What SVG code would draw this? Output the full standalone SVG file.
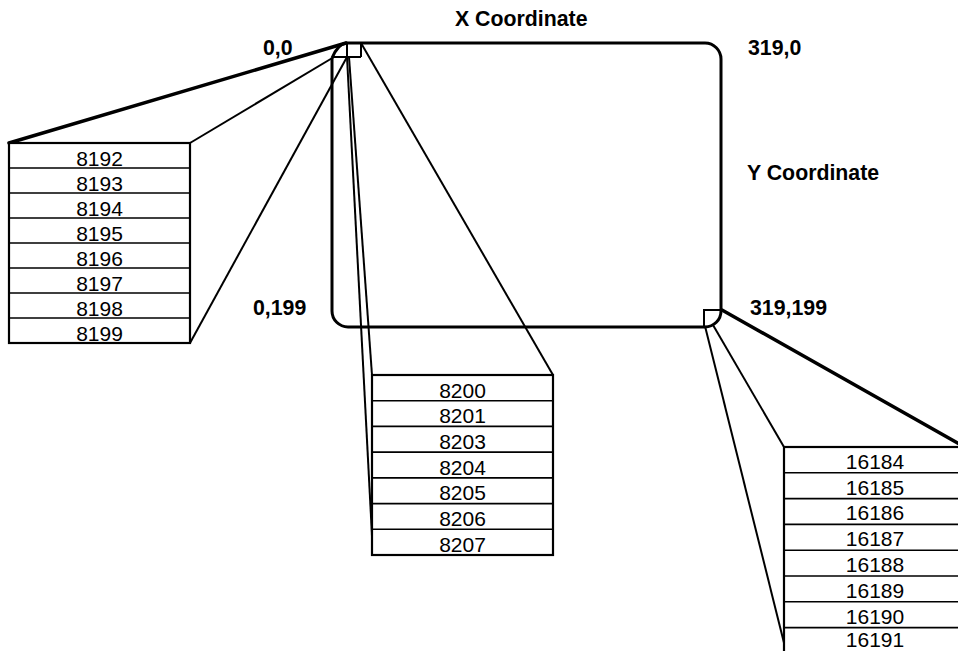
<svg xmlns="http://www.w3.org/2000/svg" width="958" height="651" viewBox="0 0 958 651">
<style>
.bg{fill:#fff}
.thick{stroke:#000;stroke-width:3.5;fill:none;stroke-linecap:round}
.thin{stroke:#000;stroke-width:2;fill:none}
.box{stroke:#000;stroke-width:2.2;fill:#fff}
.row{stroke:#000;stroke-width:1.6}
.num{font-family:"Liberation Sans",Arial,sans-serif;font-size:21px;fill:#000;text-anchor:middle}
.lbl{font-family:"Liberation Sans",Arial,sans-serif;font-size:21.3px;font-weight:bold;fill:#000}
</style>
<rect class="bg" width="958" height="651"/>
<g id="screen">
<path d="M332,58 V311 A16,16 0 0 0 348,327 H705 A16,16 0 0 0 721,311 V59 A16,16 0 0 0 705,43 H346 Q338,44 332,58" fill="none" stroke="#000" stroke-width="3"/>
<path class="thin" d="M347,43 V57 M361,43 V57 M333,57 H361"/>
<path class="thin" d="M704,327 V310 H721"/>
</g>
<g id="connectors">
<line class="thick" x1="9" y1="143" x2="346" y2="43"/>
<line class="thin" x1="190" y1="143" x2="334" y2="57"/>
<line class="thin" x1="190" y1="343" x2="347" y2="57"/>
<line class="thin" x1="347" y1="57" x2="373" y2="555"/>
<line class="thin" x1="349" y1="57" x2="372" y2="375"/>
<line class="thin" x1="361" y1="43" x2="553" y2="375"/>
<line class="thick" x1="722" y1="310" x2="968" y2="449"/>
<line class="thin" x1="713" y1="325" x2="784" y2="447"/>
<line class="thin" x1="705" y1="326" x2="787" y2="655"/>
</g>
<g id="labels">
<text class="lbl" x="455" y="26">X Coordinate</text>
<text class="lbl" x="263" y="55">0,0</text>
<text class="lbl" x="748" y="55">319,0</text>
<text class="lbl" x="747" y="180">Y Coordinate</text>
<text class="lbl" x="253" y="315">0,199</text>
<text class="lbl" x="750" y="315">319,199</text>
</g>
<g id="box-left">
<rect class="box" x="9" y="143" width="181" height="200"/>
<path class="row" d="M9,168H190M9,193H190M9,218H190M9,243H190M9,268H190M9,293H190M9,318H190"/>
<text class="num" x="99.5" y="165.5">8192</text>
<text class="num" x="99.5" y="190.5">8193</text>
<text class="num" x="99.5" y="215.5">8194</text>
<text class="num" x="99.5" y="240.5">8195</text>
<text class="num" x="99.5" y="265.5">8196</text>
<text class="num" x="99.5" y="290.5">8197</text>
<text class="num" x="99.5" y="315.5">8198</text>
<text class="num" x="99.5" y="340.5">8199</text>
</g>
<g id="box-middle">
<rect class="box" x="372" y="375" width="181" height="180"/>
<path class="row" d="M372,400.7H553M372,426.4H553M372,452.1H553M372,477.9H553M372,503.6H553M372,529.3H553"/>
<text class="num" x="462.5" y="397.5">8200</text>
<text class="num" x="462.5" y="423">8201</text>
<text class="num" x="462.5" y="448.5">8203</text>
<text class="num" x="462.5" y="474.5">8204</text>
<text class="num" x="462.5" y="500">8205</text>
<text class="num" x="462.5" y="525.5">8206</text>
<text class="num" x="462.5" y="551.5">8207</text>
</g>
<g id="box-right">
<rect class="box" x="784" y="447" width="186" height="210"/>
<path class="row" d="M784,472.8H970M784,498.6H970M784,524.4H970M784,550.2H970M784,576H970M784,601.8H970M784,627.6H970"/>
<text class="num" x="875" y="468.5">16184</text>
<text class="num" x="875" y="494.5">16185</text>
<text class="num" x="875" y="520">16186</text>
<text class="num" x="875" y="546">16187</text>
<text class="num" x="875" y="571.5">16188</text>
<text class="num" x="875" y="597.5">16189</text>
<text class="num" x="875" y="623.5">16190</text>
<text class="num" x="875" y="647">16191</text>
</g>
</svg>
